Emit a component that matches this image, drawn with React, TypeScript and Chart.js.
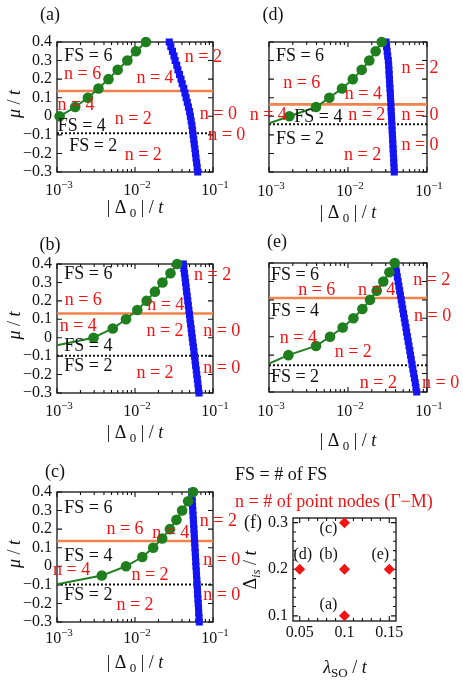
import React, { useEffect, useRef } from "react";
import { Chart, registerables } from "chart.js";
Chart.register(...registerables);

const W = 463;
const H = 687;
const FONT = '"Liberation Serif", "DejaVu Serif", "Times New Roman", serif';
const BLUE = "#1414f5";
const GREEN = "#1f7f1f";
const ORANGE = "rgb(240,130,75)";
const RED = "#f01414";
const BLACK = "#111";

// ---------- shared axis data ----------
const muSquares = [0.4, 0.375, 0.35, 0.325, 0.3, 0.275, 0.25, 0.225, 0.2, 0.175, 0.15, 0.125, 0.1, 0.075, 0.05, 0.025, 0, -0.025, -0.05, -0.075, -0.1, -0.125, -0.15, -0.175, -0.2, -0.225, -0.25, -0.275, -0.3];
const muTicks = [0.4, 0.3, 0.2, 0.1, 0, -0.1, -0.2, -0.3];
const muTickLabels = ["0.4", "0.3", "0.2", "0.1", "0", "\u22120.1", "\u22120.2", "\u22120.3"];
const deltaDecades = [0.001, 0.01, 0.1];
const deltaDecadeExponents = ["\u22123", "\u22122", "\u22121"];
const deltaMinorTicks = [0.002, 0.003, 0.004, 0.005, 0.006, 0.007, 0.008, 0.009, 0.02, 0.03, 0.04, 0.05, 0.06, 0.07, 0.08, 0.09];

// ---------- panel (a) ----------
const aGreenDelta = [0.00108, 0.00171, 0.00249, 0.0034, 0.00457, 0.006, 0.00798, 0.0103, 0.0138];
const aGreenMu = [0, 0.05, 0.1, 0.15, 0.2, 0.25, 0.3, 0.35, 0.4];
const aBlueDelta = [0.0275, 0.0288, 0.0302, 0.0316, 0.0327, 0.0343, 0.0355, 0.0372, 0.0389, 0.0403, 0.0422, 0.0437, 0.0452, 0.0468, 0.0484, 0.0501, 0.0513, 0.0525, 0.0537, 0.0547, 0.0556, 0.0566, 0.0575, 0.0586, 0.0596, 0.0605, 0.0617, 0.0627, 0.0637];
const aOrangeMu = 0.136;
const aDottedMu = -0.092;

// ---------- panel (b) ----------
const bGreenDelta = [0.00294, 0.00519, 0.00767, 0.0107, 0.0141, 0.018, 0.0225, 0.0285, 0.0347];
const bGreenMu = [0, 0.05, 0.1, 0.15, 0.2, 0.25, 0.3, 0.35, 0.4];
const bBlueDelta = [0.0416, 0.0423, 0.043, 0.0438, 0.0445, 0.0452, 0.0459, 0.0467, 0.0475, 0.0483, 0.0491, 0.0499, 0.0507, 0.0516, 0.0525, 0.0533, 0.0542, 0.0551, 0.0561, 0.057, 0.0579, 0.0589, 0.0598, 0.061, 0.0619, 0.063, 0.064, 0.065, 0.0662];
const bOrangeMu = 0.131;
const bDottedMu = -0.098;
const bTailMu = -0.041;

// ---------- panel (c) ----------
const cGreenDelta = [0.00375, 0.00767, 0.0124, 0.0171, 0.0223, 0.028, 0.034, 0.0402, 0.048, 0.0556];
const cGreenMu = [-0.05, 0, 0.05, 0.1, 0.15, 0.2, 0.25, 0.3, 0.35, 0.4];
const cBlueDelta = [0.0533, 0.0537, 0.0542, 0.0546, 0.0551, 0.0555, 0.056, 0.0564, 0.0569, 0.0573, 0.0578, 0.0582, 0.0587, 0.0592, 0.0596, 0.0601, 0.0605, 0.0611, 0.0615, 0.0621, 0.0625, 0.0631, 0.0635, 0.0641, 0.0646, 0.0652, 0.0656, 0.0662, 0.0667];
const cOrangeMu = 0.136;
const cDottedMu = -0.098;
const cTailMu = -0.097;

// ---------- panel (d) ----------
const dGreenDelta = [0.00181, 0.00394, 0.0058, 0.0084, 0.0115, 0.0149, 0.0186, 0.0224, 0.0267];
const dGreenMu = [0, 0.05, 0.1, 0.15, 0.2, 0.25, 0.3, 0.35, 0.4];
const dBlueDelta = [0.0303, 0.0308, 0.0313, 0.0318, 0.0324, 0.0327, 0.033, 0.0332, 0.0335, 0.0337, 0.034, 0.0343, 0.0345, 0.0348, 0.035, 0.0352, 0.0355, 0.0357, 0.036, 0.0362, 0.0365, 0.0367, 0.037, 0.0372, 0.0375, 0.0378, 0.038, 0.0383, 0.0385];
const dOrangeMu = 0.064;
const dDottedMu = -0.043;
const dTailMu = -0.0375;

// ---------- panel (e) ----------
const eGreenDelta = [0.00176, 0.00394, 0.00592, 0.00856, 0.0117, 0.0152, 0.019, 0.0231, 0.028, 0.0334, 0.039];
const eGreenMu = [-0.1, -0.05, 0, 0.05, 0.1, 0.15, 0.2, 0.25, 0.3, 0.35, 0.4];
const eBlueDelta = [0.0394, 0.0403, 0.0412, 0.0421, 0.0431, 0.0441, 0.0451, 0.0461, 0.0472, 0.0482, 0.0493, 0.0505, 0.0516, 0.0528, 0.0541, 0.0552, 0.0565, 0.0578, 0.0592, 0.0605, 0.0619, 0.0632, 0.0647, 0.0662, 0.0678, 0.0693, 0.071, 0.0724, 0.0741];
const eOrangeMu = 0.21;
const eDottedMu = -0.155;
const eTailMu = -0.146;

// ---------- panel (f) ----------
const fLambda = [0.1, 0.1, 0.1, 0.05, 0.15];
const fDeltaIs = [0.1, 0.2, 0.3, 0.2, 0.2];
const fPointLabels = ["(a)", "(b)", "(c)", "(d)", "(e)"];
const fXTicks = [0.05, 0.1, 0.15];
const fXTickLabels = ["0.05", "0.1", "0.15"];
const fYTicks = [0.1, 0.2, 0.3];
const fYTickLabels = ["0.1", "0.2", "0.3"];

// ---------- text annotations (text, colour, log10 x, mu) ----------
type Note = [string, string, number, number];
const aNotes: Note[] = [
  ["FS = 6", BLACK, -2.598, 0.321], ["n = 6", RED, -2.671, 0.228], ["n = 4", RED, -1.744, 0.204],
  ["n = 2", RED, -1.124, 0.318], ["n = 4", RED, -2.756, 0.061], ["n = 2", RED, -2.022, -0.016],
  ["n = 0", RED, -0.932, 0.012], ["FS = 4", BLACK, -2.683, -0.056], ["FS = 2", BLACK, -2.535, -0.164],
  ["n = 2", RED, -1.894, -0.208], ["n = 0", RED, -0.824, -0.101],
];
const dNotes: Note[] = [
  ["FS = 6", BLACK, -2.608, 0.321], ["n = 6", RED, -2.586, 0.178], ["n = 4", RED, -1.806, 0.118],
  ["n = 2", RED, -1.089, 0.258], ["n = 4", RED, -3.009, 0.007], ["FS = 4", BLACK, -2.376, -0.006],
  ["n = 2", RED, -1.763, 0.007], ["n = 0", RED, -1.089, 0.007], ["FS = 2", BLACK, -2.608, -0.124],
  ["n = 0", RED, -1.089, -0.155], ["n = 2", RED, -1.814, -0.208],
];
const bNotes: Note[] = [
  ["FS = 6", BLACK, -2.598, 0.346], ["n = 2", RED, -1.004, 0.34], ["n = 6", RED, -2.663, 0.201],
  ["n = 4", RED, -1.606, 0.178], ["n = 4", RED, -2.727, 0.06], ["n = 2", RED, -1.615, 0.033],
  ["n = 0", RED, -0.888, 0.033], ["FS = 4", BLACK, -2.598, -0.049], ["FS = 2", BLACK, -2.598, -0.157],
  ["n = 2", RED, -1.744, -0.193], ["n = 0", RED, -0.888, -0.166],
];
const eNotes: Note[] = [
  ["FS = 6", BLACK, -2.671, 0.335], ["n = 2", RED, -0.94, 0.304], ["n = 6", RED, -2.396, 0.25],
  ["n = 4", RED, -1.637, 0.25], ["FS = 4", BLACK, -2.671, 0.136], ["n = 0", RED, -0.928, 0.109],
  ["n = 4", RED, -2.629, -0.009], ["n = 2", RED, -1.933, -0.087], ["FS = 2", BLACK, -2.671, -0.22],
  ["n = 2", RED, -1.616, -0.253], ["n = 0", RED, -0.827, -0.253],
];
const cNotes: Note[] = [
  ["FS = 6", BLACK, -2.598, 0.312], ["n = 2", RED, -0.932, 0.24], ["n = 6", RED, -2.128, 0.199],
  ["n = 4", RED, -1.542, 0.178], ["FS = 4", BLACK, -2.598, 0.052], ["n = 0", RED, -0.888, 0.034],
  ["n = 4", RED, -2.812, -0.024], ["n = 2", RED, -1.808, -0.047], ["FS = 2", BLACK, -2.598, -0.155],
  ["n = 2", RED, -2.0, -0.208], ["n = 0", RED, -0.888, -0.155],
];

// ---------- layout ----------
interface Panel {
  rect: [number, number, number, number];
  tag: string;
  tagPos: [number, number];
  greenDelta: number[];
  greenMu: number[];
  blueDelta: number[];
  orangeMu: number;
  dottedMu: number;
  tailMu: number | null;
  notes: Note[];
  xTickDy: number;
  xTitleY: number;
  yLabels: boolean;
}

const panels: Panel[] = [
  { rect: [57, 42, 213, 172], tag: "(a)", tagPos: [50, 15], greenDelta: aGreenDelta, greenMu: aGreenMu, blueDelta: aBlueDelta, orangeMu: aOrangeMu, dottedMu: aDottedMu, tailMu: null, notes: aNotes, xTickDy: 19, xTitleY: 208, yLabels: true },
  { rect: [269, 42, 427, 172], tag: "(d)", tagPos: [273, 15], greenDelta: dGreenDelta, greenMu: dGreenMu, blueDelta: dBlueDelta, orangeMu: dOrangeMu, dottedMu: dDottedMu, tailMu: dTailMu, notes: dNotes, xTickDy: 20, xTitleY: 213, yLabels: false },
  { rect: [57, 264, 213, 393], tag: "(b)", tagPos: [50, 245], greenDelta: bGreenDelta, greenMu: bGreenMu, blueDelta: bBlueDelta, orangeMu: bOrangeMu, dottedMu: bDottedMu, tailMu: bTailMu, notes: bNotes, xTickDy: 19, xTitleY: 433, yLabels: true },
  { rect: [269, 263, 427, 392], tag: "(e)", tagPos: [277, 242], greenDelta: eGreenDelta, greenMu: eGreenMu, blueDelta: eBlueDelta, orangeMu: eOrangeMu, dottedMu: eDottedMu, tailMu: eTailMu, notes: eNotes, xTickDy: 20, xTitleY: 441, yLabels: false },
  { rect: [57, 492, 213, 622], tag: "(c)", tagPos: [55, 472], greenDelta: cGreenDelta, greenMu: cGreenMu, blueDelta: cBlueDelta, orangeMu: cOrangeMu, dottedMu: cDottedMu, tailMu: cTailMu, notes: cNotes, xTickDy: 17, xTitleY: 663, yLabels: true },
];
const fRect: [number, number, number, number] = [293, 518, 396, 621];

// ---------- text helpers ----------
type Seg = { t: string; it?: boolean; sub?: boolean; sup?: boolean };
function drawRich(ctx: CanvasRenderingContext2D, segs: Seg[], x: number, y: number, size: number, color: string, align: "left" | "center" | "right") {
  const fontFor = (s: Seg) => `${s.it ? "italic " : ""}${s.sub || s.sup ? Math.round(size * 0.7) : size}px ${FONT}`;
  let total = 0;
  const widths = segs.map((s) => {
    ctx.font = fontFor(s);
    const w = ctx.measureText(s.t).width;
    total += w;
    return w;
  });
  let cx = align === "left" ? x : align === "center" ? x - total / 2 : x - total;
  ctx.fillStyle = color;
  ctx.textBaseline = "middle";
  ctx.textAlign = "left";
  segs.forEach((s, i) => {
    ctx.font = fontFor(s);
    const dy = s.sub ? size * 0.3 : s.sup ? -size * 0.38 : 0;
    ctx.fillText(s.t, cx, y + dy);
    cx += widths[i];
  });
}

function drawFrame(ctx: CanvasRenderingContext2D, ca: any) {
  ctx.save();
  ctx.strokeStyle = BLACK;
  ctx.lineWidth = 1.3;
  ctx.strokeRect(ca.left, ca.top, ca.right - ca.left, ca.bottom - ca.top);
  ctx.restore();
}

function tickX(ctx: CanvasRenderingContext2D, x: number, ca: any, len: number) {
  ctx.beginPath();
  ctx.moveTo(x, ca.bottom);
  ctx.lineTo(x, ca.bottom - len);
  ctx.moveTo(x, ca.top);
  ctx.lineTo(x, ca.top + len);
  ctx.stroke();
}
function tickY(ctx: CanvasRenderingContext2D, y: number, ca: any, len: number) {
  ctx.beginPath();
  ctx.moveTo(ca.left, y);
  ctx.lineTo(ca.left + len, y);
  ctx.moveTo(ca.right, y);
  ctx.lineTo(ca.right - len, y);
  ctx.stroke();
}

function panelPlugin(p: Panel) {
  return {
    id: "panelDeco",
    beforeDatasetsDraw(chart: any) {
      const ctx: CanvasRenderingContext2D = chart.ctx;
      const ca = chart.chartArea;
      const xs = chart.scales.x;
      const ys = chart.scales.y;
      drawFrame(ctx, ca);
      ctx.save();
      ctx.strokeStyle = BLACK;
      ctx.lineWidth = 1.1;
      deltaDecades.forEach((v) => tickX(ctx, xs.getPixelForValue(v), ca, 5));
      deltaMinorTicks.forEach((v) => tickX(ctx, xs.getPixelForValue(v), ca, 3));
      muTicks.forEach((v) => tickY(ctx, ys.getPixelForValue(v), ca, 5));
      ctx.restore();
    },
    afterDatasetsDraw(chart: any) {
      const ctx: CanvasRenderingContext2D = chart.ctx;
      const ca = chart.chartArea;
      const xs = chart.scales.x;
      const ys = chart.scales.y;
      ctx.save();
      p.notes.forEach(([t, col, lx, mu]) => {
        drawRich(ctx, [{ t }], xs.getPixelForValue(Math.pow(10, lx)), ys.getPixelForValue(mu), 18, col, "center");
      });
      deltaDecades.forEach((v, i) => {
        const px = xs.getPixelForValue(v);
        drawRich(ctx, [{ t: "10" }, { t: deltaDecadeExponents[i], sup: true }], px + 2, ca.bottom + p.xTickDy, 16, BLACK, "center");
      });
      if (p.yLabels) {
        muTicks.forEach((v, i) => {
          drawRich(ctx, [{ t: muTickLabels[i] }], ca.left - 5, ys.getPixelForValue(v), 16, BLACK, "right");
        });
        ctx.save();
        ctx.translate(15, (ca.top + ca.bottom) / 2 - 3);
        ctx.rotate(-Math.PI / 2);
        drawRich(ctx, [{ t: "\u03bc", it: true }, { t: " / " }, { t: "t", it: true }], 0, 0, 18, BLACK, "center");
        ctx.restore();
      }
      drawRich(ctx, [{ t: "| \u0394" }, { t: " 0", sub: true }, { t: " | / " }, { t: "t", it: true }], (ca.left + ca.right) / 2, p.xTitleY, 18, BLACK, "center");
      drawRich(ctx, [{ t: p.tag }], p.tagPos[0], p.tagPos[1], 18, BLACK, "center");
      ctx.restore();
    },
  };
}

function panelConfig(p: Panel): any {
  const [L, T, R, B] = p.rect;
  const datasets: any[] = [
    {
      data: p.greenDelta.map((x, i) => ({ x, y: p.greenMu[i] })),
      showLine: true, borderColor: GREEN, borderWidth: 2, pointStyle: "circle", pointRadius: 5.3,
      pointBackgroundColor: GREEN, pointBorderColor: GREEN, pointBorderWidth: 0, order: 0, clip: false,
    },
    {
      data: p.blueDelta.map((x, i) => ({ x, y: muSquares[i] })),
      showLine: true, borderColor: BLUE, borderWidth: 2, pointStyle: "rect", pointRadius: 5,
      pointBackgroundColor: BLUE, pointBorderColor: BLUE, pointBorderWidth: 0, order: 1, clip: false,
    },
    {
      data: [{ x: 0.001, y: p.orangeMu }, { x: 0.1, y: p.orangeMu }],
      showLine: true, borderColor: ORANGE, borderWidth: 2.6, pointRadius: 0, order: 3,
    },
    {
      data: [{ x: 0.001, y: p.dottedMu }, { x: 0.1, y: p.dottedMu }],
      showLine: true, borderColor: BLACK, borderWidth: 2, borderDash: [2, 2], pointRadius: 0, order: 3,
    },
  ];
  if (p.tailMu !== null) {
    datasets.push({
      data: [{ x: 0.001, y: p.tailMu }, { x: p.greenDelta[0], y: p.greenMu[0] }],
      showLine: true, borderColor: GREEN, borderWidth: 2, pointRadius: 0, order: 2,
    });
  }
  return {
    type: "scatter",
    data: { datasets },
    options: {
      animation: false,
      responsive: false,
      events: [],
      layout: { padding: { left: L, top: T, right: W - R, bottom: H - B } },
      plugins: { legend: { display: false }, tooltip: { enabled: false } },
      scales: {
        x: { type: "logarithmic", min: 0.001, max: 0.1, display: false },
        y: { type: "linear", min: -0.3, max: 0.4, display: false },
      },
    },
    plugins: [panelPlugin(p)],
  };
}

function fConfig(): any {
  const [L, T, R, B] = fRect;
  const plugin = {
    id: "fDeco",
    beforeDatasetsDraw(chart: any) {
      const ctx: CanvasRenderingContext2D = chart.ctx;
      const ca = chart.chartArea;
      const xs = chart.scales.x;
      const ys = chart.scales.y;
      drawFrame(ctx, ca);
      ctx.save();
      ctx.strokeStyle = BLACK;
      ctx.lineWidth = 1.1;
      for (let v = 0.05; v <= 0.151; v += 0.01) {
        const major = fXTicks.some((m) => Math.abs(m - v) < 1e-6);
        tickX(ctx, xs.getPixelForValue(v), ca, major ? 5 : 3);
      }
      for (let v = 0.1; v <= 0.301; v += 0.02) {
        const major = fYTicks.some((m) => Math.abs(m - v) < 1e-6);
        tickY(ctx, ys.getPixelForValue(v), ca, major ? 5 : 3);
      }
      ctx.restore();
    },
    afterDatasetsDraw(chart: any) {
      const ctx: CanvasRenderingContext2D = chart.ctx;
      const ca = chart.chartArea;
      const xs = chart.scales.x;
      const ys = chart.scales.y;
      ctx.save();
      fXTicks.forEach((v, i) => drawRich(ctx, [{ t: fXTickLabels[i] }], xs.getPixelForValue(v), ca.bottom + 12, 16, BLACK, "center"));
      fYTicks.forEach((v, i) => drawRich(ctx, [{ t: fYTickLabels[i] }], ca.left - 5, ys.getPixelForValue(v), 16, BLACK, "right"));
      const lblOff: [number, number][] = [[-16, -11], [-16, -14], [-16, 6], [3, -14], [-9, -14]];
      fPointLabels.forEach((t, i) => {
        const px = xs.getPixelForValue(fLambda[i]) + lblOff[i][0];
        const py = ys.getPixelForValue(fDeltaIs[i]) + lblOff[i][1];
        drawRich(ctx, [{ t }], px, py, 16, BLACK, "center");
      });
      drawRich(ctx, [{ t: "(f)" }], 253, 523, 18, BLACK, "center");
      ctx.save();
      ctx.translate(251, 570);
      ctx.rotate(-Math.PI / 2);
      drawRich(ctx, [{ t: "\u0394" }, { t: "is", it: true, sub: true }, { t: " / " }, { t: "t", it: true }], 0, 0, 18, BLACK, "center");
      ctx.restore();
      drawRich(ctx, [{ t: "\u03bb", it: true }, { t: "SO", sub: true }, { t: " / " }, { t: "t", it: true }], 345, 668, 18, BLACK, "center");
      drawRich(ctx, [{ t: "FS = # of FS" }], 235, 475, 18, BLACK, "left");
      drawRich(ctx, [{ t: "n = # of point nodes (\u0393\u2212M)" }], 235, 502, 18, RED, "left");
      ctx.restore();
    },
  };
  return {
    type: "scatter",
    data: {
      datasets: [
        {
          data: fLambda.map((x, i) => ({ x, y: fDeltaIs[i] })),
          pointStyle: "rectRot", pointRadius: 5.5, pointBackgroundColor: RED, pointBorderColor: RED,
          pointBorderWidth: 0, clip: false,
        },
      ],
    },
    options: {
      animation: false,
      responsive: false,
      events: [],
      layout: { padding: { left: L, top: T, right: W - R, bottom: H - B } },
      plugins: { legend: { display: false }, tooltip: { enabled: false } },
      scales: {
        x: { type: "linear", min: 0.0425, max: 0.1575, display: false },
        y: { type: "linear", min: 0.089, max: 0.31, display: false },
      },
    },
    plugins: [plugin],
  };
}

export default function App() {
  const refs = useRef<(HTMLCanvasElement | null)[]>([]);
  useEffect(() => {
    const configs = [...panels.map(panelConfig), fConfig()];
    const charts = configs.map((cfg, i) => new Chart(refs.current[i] as HTMLCanvasElement, cfg));
    return () => charts.forEach((c) => c.destroy());
  }, []);
  return (
    <div style={{ position: "absolute", left: 0, top: 0, width: W, height: H, background: "#fff" }}>
      {[0, 1, 2, 3, 4, 5].map((i) => (
        <canvas
          key={i}
          ref={(el) => { refs.current[i] = el; }}
          width={W}
          height={H}
          style={{ position: "absolute", left: 0, top: 0, width: W, height: H }}
        />
      ))}
    </div>
  );
}
